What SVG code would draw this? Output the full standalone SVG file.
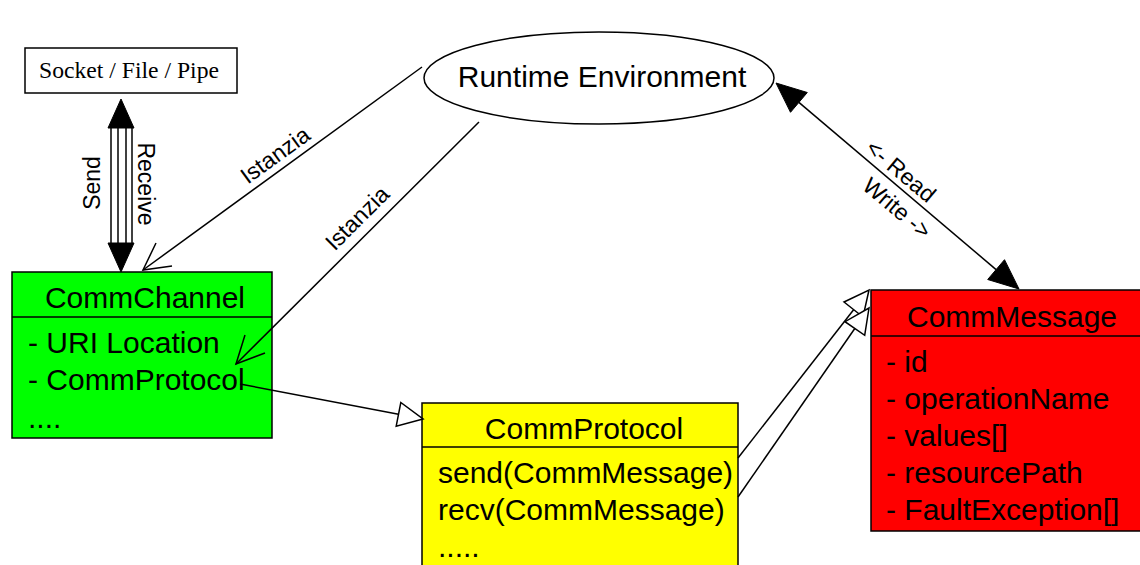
<svg xmlns="http://www.w3.org/2000/svg" width="1140" height="565" viewBox="0 0 1140 565">
<style>
.box{stroke:#000;stroke-width:1.5}
.t{font-family:"Liberation Sans",Arial,sans-serif;font-size:30px;fill:#000}
.lbl{font-family:"Liberation Sans",Arial,sans-serif;font-size:23px;fill:#000;text-anchor:middle}
.ln{stroke:#000;stroke-width:1.5;fill:none}
.hollow{stroke:#000;stroke-width:1.5;fill:#fff}
.solid{stroke:#000;stroke-width:1;fill:#000}
</style>
<rect width="1140" height="565" fill="#fff"/>
<g id="socket">
<rect x="25" y="48" width="212" height="45" fill="#fff" class="box" stroke-width="1.2"/>
<text x="129" y="78" font-family="'Liberation Serif','Times New Roman',serif" font-size="23" text-anchor="middle" textLength="180" lengthAdjust="spacingAndGlyphs">Socket / File / Pipe</text>
</g>
<g id="runtime">
<ellipse cx="599" cy="78" rx="175" ry="46" fill="#fff" class="box"/>
<text x="602" y="87" class="t" text-anchor="middle">Runtime Environment</text>
</g>
<g id="commchannel">
<rect x="12" y="272" width="260" height="166" fill="#00ff00" class="box"/>
<line x1="12" y1="317" x2="272" y2="317" class="ln"/>
<text x="145" y="308" class="t" text-anchor="middle">CommChannel</text>
<text x="28" y="353" class="t">- URI Location</text>
<text x="28" y="390" class="t">- CommProtocol</text>
<text x="28" y="428" class="t">....</text>
</g>
<g id="commprotocol">
<rect x="422" y="403" width="316" height="180" fill="#ffff00" class="box"/>
<line x1="422" y1="447" x2="738" y2="447" class="ln"/>
<text x="584" y="439" class="t" text-anchor="middle">CommProtocol</text>
<text x="438" y="483" class="t">send(CommMessage)</text>
<text x="438" y="520" class="t">recv(CommMessage)</text>
<text x="438" y="557" class="t">.....</text>
</g>
<g id="commmessage">
<rect x="871" y="290" width="280" height="241" fill="#ff0000" class="box"/>
<line x1="871" y1="336" x2="1145" y2="336" class="ln"/>
<text x="1012" y="327" class="t" text-anchor="middle">CommMessage</text>
<text x="886" y="372" class="t">- id</text>
<text x="886" y="409" class="t">- operationName</text>
<text x="886" y="446" class="t">- values[]</text>
<text x="886" y="483" class="t">- resourcePath</text>
<text x="886" y="520" class="t">- FaultException[]</text>
</g>
<g id="connectors">
<!-- Send / Receive -->
<line x1="111" y1="128" x2="111" y2="243" class="ln" stroke-width="1.2"/>
<line x1="118" y1="128" x2="118" y2="243" class="ln" stroke-width="1.2"/>
<line x1="126" y1="128" x2="126" y2="243" class="ln" stroke-width="1.2"/>
<line x1="132" y1="128" x2="132" y2="243" class="ln" stroke-width="1.2"/>
<polygon points="121,99 108,128 134,128" class="solid"/>
<polygon points="121,272 108,243 134,243" class="solid"/>
<text class="lbl" transform="translate(92,183) rotate(-90)" y="8">Send</text>
<text class="lbl" transform="translate(146,184) rotate(90)" y="8">Receive</text>
<!-- Istanzia 1 -->
<line x1="422" y1="67" x2="143" y2="270" class="ln"/>
<polyline points="156,243 143,270 172,266" class="ln"/>
<text class="lbl" transform="translate(275,155) rotate(-36)" y="8">Istanzia</text>
<!-- Istanzia 2 -->
<line x1="479" y1="122" x2="236" y2="364" class="ln"/>
<polyline points="245,335 236,364 265,353" class="ln"/>
<text class="lbl" transform="translate(357,218) rotate(-45)" y="8">Istanzia</text>
<!-- association CommChannel -> CommProtocol -->
<line x1="240" y1="384" x2="398.5" y2="414.3" class="ln"/>
<polygon points="423,419 396.2,426.1 400.8,402.5" class="hollow"/>
<!-- generalizations CommProtocol -> CommMessage -->
<line x1="738" y1="458" x2="853.6" y2="309.7" class="ln"/>
<polygon points="869,290 863,317 844,302" class="hollow"/>
<line x1="738" y1="497" x2="854.8" y2="328.5" class="ln"/>
<polygon points="869,308 864.7,335.3 845,321.7" class="hollow"/>
<!-- Read / Write -->
<line x1="798.9" y1="102.4" x2="996.1" y2="269.6" class="ln"/>
<polygon points="776,83 790.5,112.3 807.3,92.5" class="solid"/>
<polygon points="1019,289 987.7,279.5 1004.5,259.7" class="solid"/>
<text class="lbl" transform="translate(901,171) rotate(40)" y="8">&lt;- Read</text>
<text class="lbl" transform="translate(897,208) rotate(40)" y="8">Write -&gt;</text>
</g>
</svg>
